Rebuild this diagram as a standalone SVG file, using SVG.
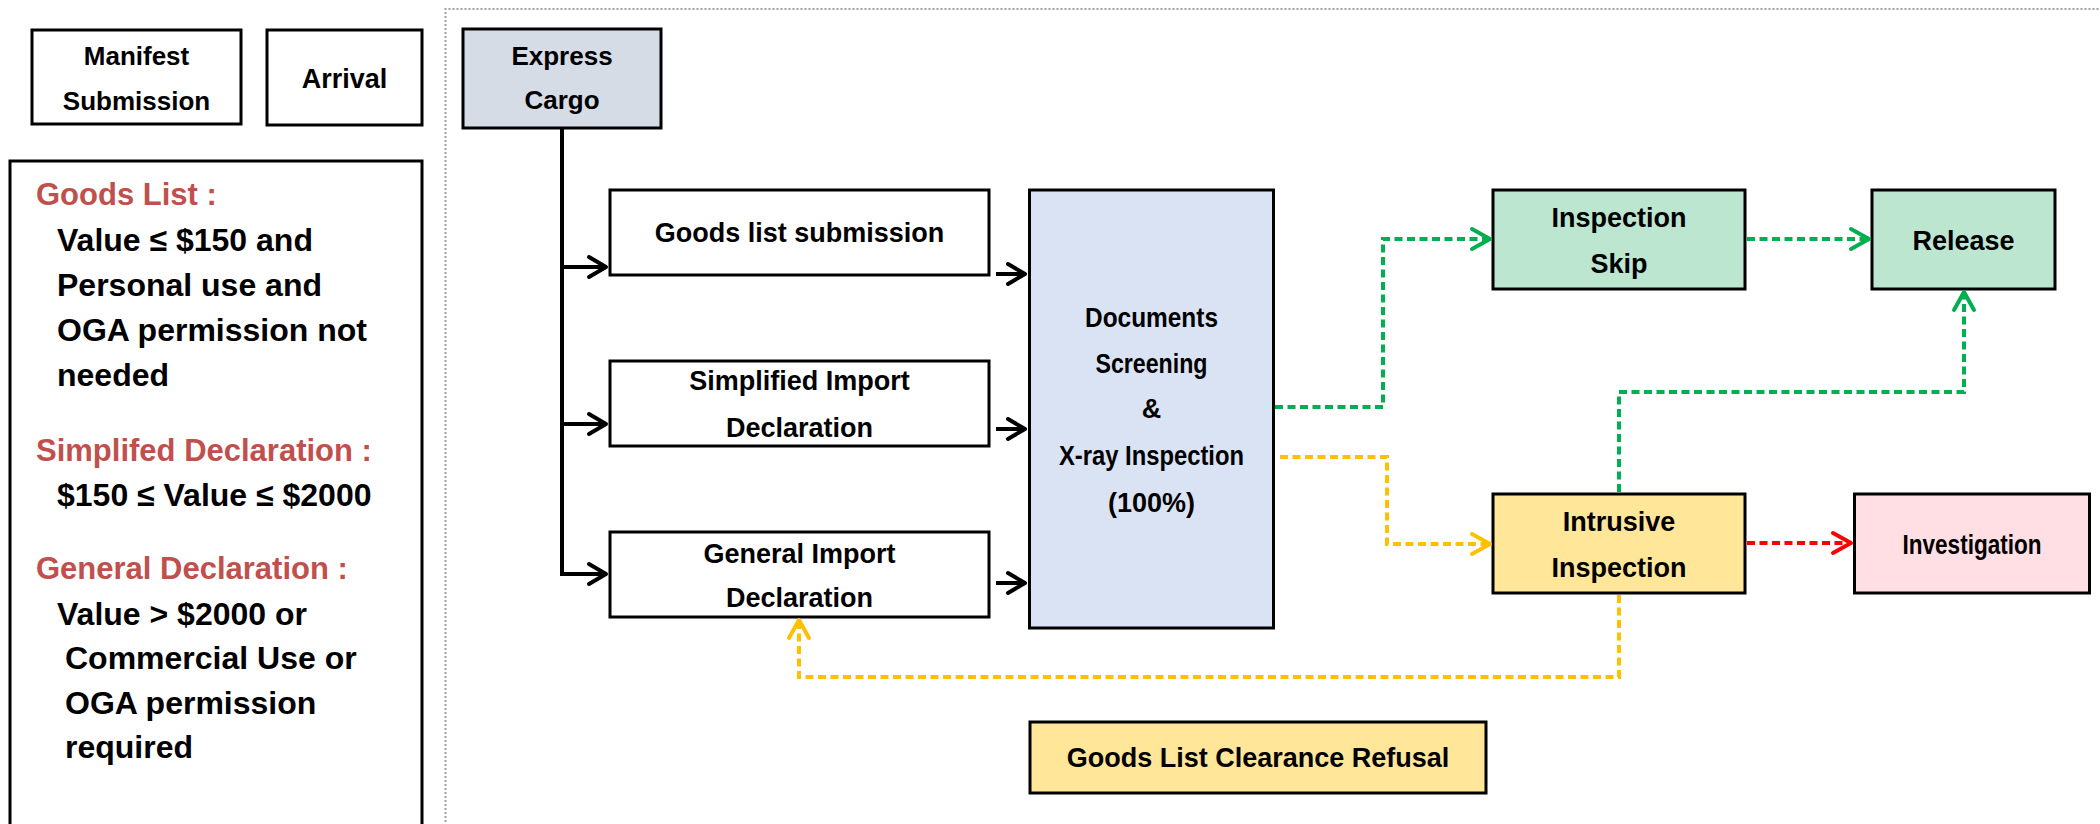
<svg xmlns="http://www.w3.org/2000/svg" width="2100" height="824" viewBox="0 0 2100 824">
<style>
  text { font-family: "Liberation Sans", Arial, sans-serif; font-weight: bold; fill: #000; }
  .node { stroke: #000; stroke-width: 3; }
  .n27 { font-size: 27px; text-anchor: middle; }
  .n26 { font-size: 26px; text-anchor: middle; }
  .head { font-size: 31px; fill: #C0504D; }
  .body { font-size: 32px; }
  .solid { fill: none; stroke: #000; stroke-width: 4; }
  .dash { fill: none; stroke-width: 4; stroke-dasharray: 8 4.5; }
  .g { stroke: #00B050; }
  .y { stroke: #FFC000; }
  .r { stroke: #FF0000; }
</style>
<defs>
  <marker id="ab" markerUnits="userSpaceOnUse" viewBox="-22 -14 26 28" markerWidth="26" markerHeight="28" refX="0" refY="0" orient="auto">
    <path d="M-17,-10 L0,0 L-17,10" fill="none" stroke="#000" stroke-width="4" stroke-linecap="round" stroke-linejoin="round"/>
  </marker>
  <marker id="ag" markerUnits="userSpaceOnUse" viewBox="-22 -14 26 28" markerWidth="26" markerHeight="28" refX="0" refY="0" orient="auto">
    <path d="M-18,-10 L0,0 L-18,10" fill="none" stroke="#00B050" stroke-width="4" stroke-linecap="round" stroke-linejoin="round"/>
  </marker>
  <marker id="ay" markerUnits="userSpaceOnUse" viewBox="-22 -14 26 28" markerWidth="26" markerHeight="28" refX="0" refY="0" orient="auto">
    <path d="M-18,-10 L0,0 L-18,10" fill="none" stroke="#FFC000" stroke-width="4" stroke-linecap="round" stroke-linejoin="round"/>
  </marker>
  <marker id="ar" markerUnits="userSpaceOnUse" viewBox="-22 -14 26 28" markerWidth="26" markerHeight="28" refX="0" refY="0" orient="auto">
    <path d="M-18,-10 L0,0 L-18,10" fill="none" stroke="#FF0000" stroke-width="4" stroke-linecap="round" stroke-linejoin="round"/>
  </marker>
</defs>
<rect x="0" y="0" width="2100" height="824" fill="#FFFFFF"/>

<!-- dotted frame -->
<path d="M445.5,830 V9 H2105" fill="none" stroke="#A0A0A0" stroke-width="2" stroke-dasharray="2 2"/>

<g id="manifest">
  <rect class="node" x="32" y="30" width="209" height="94" fill="#FFFFFF"/>
  <text class="n26" x="136.5" y="65">Manifest</text>
  <text class="n26" x="136.5" y="110">Submission</text>
</g>
<g id="arrival">
  <rect class="node" x="267" y="30" width="155" height="95" fill="#FFFFFF"/>
  <text class="n27" x="344.5" y="88">Arrival</text>
</g>
<g id="legend">
  <rect class="node" x="10" y="161" width="412" height="680" fill="#FFFFFF"/>
  <text class="head" x="36" y="205">Goods List :</text>
  <text class="body" x="57" y="251">Value ≤ $150 and</text>
  <text class="body" x="57" y="296">Personal use and</text>
  <text class="body" x="57" y="341">OGA permission not</text>
  <text class="body" x="57" y="386">needed</text>
  <text class="head" x="36" y="461">Simplifed Declaration :</text>
  <text class="body" x="57" y="506">$150 ≤ Value ≤ $2000</text>
  <text class="head" x="36" y="579">General Declaration :</text>
  <text class="body" x="57" y="625">Value &gt; $2000 or</text>
  <text class="body" x="65" y="669">Commercial Use or</text>
  <text class="body" x="65" y="714">OGA permission</text>
  <text class="body" x="65" y="758">required</text>
</g>

<g id="express-cargo">
  <rect class="node" x="463" y="29" width="198" height="99" fill="#D6DCE5"/>
  <text class="n26" x="562" y="65">Express</text>
  <text class="n26" x="562" y="109">Cargo</text>
</g>
<g id="goods-list-submission">
  <rect class="node" x="610" y="190" width="379" height="85" fill="#FFFFFF"/>
  <text class="n27" x="799.5" y="242">Goods list submission</text>
</g>
<g id="simplified-import">
  <rect class="node" x="610" y="361" width="379" height="85" fill="#FFFFFF"/>
  <text class="n27" x="799.5" y="390">Simplified Import</text>
  <text class="n27" x="799.5" y="437">Declaration</text>
</g>
<g id="general-import">
  <rect class="node" x="610" y="532" width="379" height="85" fill="#FFFFFF"/>
  <text class="n27" x="799.5" y="563">General Import</text>
  <text class="n27" x="799.5" y="607">Declaration</text>
</g>
<g id="documents-screening">
  <rect class="node" x="1029.5" y="190" width="244" height="438" fill="#DAE3F3"/>
  <text class="n27" x="1151.5" y="327" textLength="133" lengthAdjust="spacingAndGlyphs">Documents</text>
  <text class="n27" x="1151.5" y="373" textLength="112" lengthAdjust="spacingAndGlyphs">Screening</text>
  <text class="n27" x="1151.5" y="418">&amp;</text>
  <text class="n27" x="1151.5" y="465" textLength="185" lengthAdjust="spacingAndGlyphs">X-ray Inspection</text>
  <text class="n27" x="1151.5" y="512">(100%)</text>
</g>
<g id="inspection-skip">
  <rect class="node" x="1493" y="190" width="252" height="99" fill="#BCE6CF"/>
  <text class="n27" x="1619" y="227">Inspection</text>
  <text class="n27" x="1619" y="273">Skip</text>
</g>
<g id="release">
  <rect class="node" x="1872" y="190" width="183" height="99" fill="#BCE6CF"/>
  <text class="n27" x="1963.5" y="250">Release</text>
</g>
<g id="intrusive-inspection">
  <rect class="node" x="1493" y="494" width="252" height="99" fill="#FFE699"/>
  <text class="n27" x="1619" y="531">Intrusive</text>
  <text class="n27" x="1619" y="577">Inspection</text>
</g>
<g id="investigation">
  <rect class="node" x="1854.5" y="494" width="235" height="99" fill="#FFDFE3"/>
  <text class="n27" x="1972" y="554" textLength="139" lengthAdjust="spacingAndGlyphs">Investigation</text>
</g>
<g id="goods-list-clearance-refusal">
  <rect class="node" x="1030" y="722" width="456" height="71" fill="#FFE699"/>
  <text class="n27" x="1258" y="767">Goods List Clearance Refusal</text>
</g>

<g id="connectors">
  <path class="solid" d="M562,128 V574 H606" marker-end="url(#ab)"/>
  <path class="solid" d="M562,267 H606" marker-end="url(#ab)"/>
  <path class="solid" d="M562,424 H606" marker-end="url(#ab)"/>
  <path class="solid" d="M996,274 H1025" marker-end="url(#ab)"/>
  <path class="solid" d="M996,429 H1025" marker-end="url(#ab)"/>
  <path class="solid" d="M996,583 H1025" marker-end="url(#ab)"/>

  <path class="dash g" d="M1275,407 H1383 V239 H1490" marker-end="url(#ag)"/>
  <path class="dash g" d="M1747,239 H1869" marker-end="url(#ag)"/>
  <path class="dash g" d="M1619,492 V392 H1964 V292" marker-end="url(#ag)"/>

  <path class="dash y" d="M1280,457 H1387 V544 H1490" marker-end="url(#ay)"/>
  <path class="dash y" d="M1619,595 V677 H799 V620" marker-end="url(#ay)"/>

  <path class="dash r" d="M1747,543 H1851" marker-end="url(#ar)"/>
</g>
</svg>
